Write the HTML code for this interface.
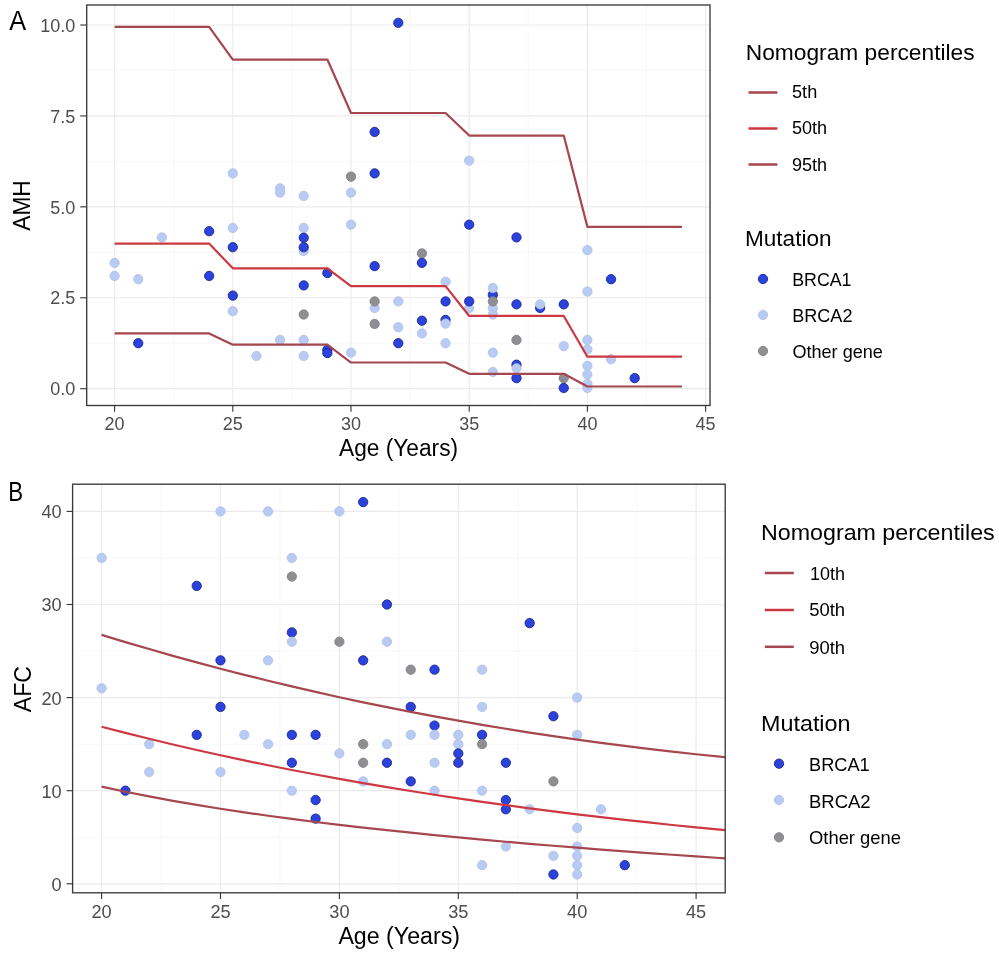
<!DOCTYPE html>
<html><head><meta charset="utf-8"><title>Nomogram</title>
<style>html,body{margin:0;padding:0;background:#fff;width:999px;height:954px;overflow:hidden}svg{display:block;will-change:transform}</style>
</head><body>
<svg width="999" height="954" viewBox="0 0 999 954">
<style>
.gmaj{stroke:#ebebee;stroke-width:1.2}
.gmin{stroke:#f3f3f5;stroke-width:0.7}
.tick{stroke:#333;stroke-width:1.1}
.tl{font-family:"Liberation Sans",sans-serif;font-size:18.0px;fill:#4d4d4d}
.tlb{font-family:"Liberation Sans",sans-serif;font-size:18.2px;fill:#4d4d4d}
text{font-family:"Liberation Sans",sans-serif}
.lt{font-family:"Liberation Sans",sans-serif;font-size:20.5px;fill:#000}
.ll{font-family:"Liberation Sans",sans-serif;font-size:17.5px;fill:#000}
.at{font-family:"Liberation Sans",sans-serif;font-size:21px;fill:#000}
.tag{font-family:"Liberation Sans",sans-serif;font-size:25px;fill:#000}
.border{fill:none;stroke:#3a3a3a;stroke-width:1.35}
</style>
<rect width="999" height="954" fill="#fff"/>
<!-- Panel A -->
<g>
<line x1="173.70" y1="5.0" x2="173.70" y2="405.5" class="gmin"/>
<line x1="291.90" y1="5.0" x2="291.90" y2="405.5" class="gmin"/>
<line x1="410.10" y1="5.0" x2="410.10" y2="405.5" class="gmin"/>
<line x1="528.30" y1="5.0" x2="528.30" y2="405.5" class="gmin"/>
<line x1="646.50" y1="5.0" x2="646.50" y2="405.5" class="gmin"/>
<line x1="86.7" y1="343.24" x2="710.0" y2="343.24" class="gmin"/>
<line x1="86.7" y1="252.31" x2="710.0" y2="252.31" class="gmin"/>
<line x1="86.7" y1="161.39" x2="710.0" y2="161.39" class="gmin"/>
<line x1="86.7" y1="70.46" x2="710.0" y2="70.46" class="gmin"/>
<line x1="114.60" y1="5.0" x2="114.60" y2="405.5" class="gmaj"/>
<line x1="232.80" y1="5.0" x2="232.80" y2="405.5" class="gmaj"/>
<line x1="351.00" y1="5.0" x2="351.00" y2="405.5" class="gmaj"/>
<line x1="469.20" y1="5.0" x2="469.20" y2="405.5" class="gmaj"/>
<line x1="587.40" y1="5.0" x2="587.40" y2="405.5" class="gmaj"/>
<line x1="705.60" y1="5.0" x2="705.60" y2="405.5" class="gmaj"/>
<line x1="86.7" y1="388.70" x2="710.0" y2="388.70" class="gmaj"/>
<line x1="86.7" y1="297.77" x2="710.0" y2="297.77" class="gmaj"/>
<line x1="86.7" y1="206.85" x2="710.0" y2="206.85" class="gmaj"/>
<line x1="86.7" y1="115.93" x2="710.0" y2="115.93" class="gmaj"/>
<line x1="86.7" y1="25.00" x2="710.0" y2="25.00" class="gmaj"/>
<circle cx="114.60" cy="262.86" r="4.65" fill="#b9cbf2" stroke="#b0c2ec" stroke-width="0.9"/>
<circle cx="114.60" cy="275.95" r="4.65" fill="#b9cbf2" stroke="#b0c2ec" stroke-width="0.9"/>
<circle cx="138.24" cy="279.23" r="4.65" fill="#b9cbf2" stroke="#b0c2ec" stroke-width="0.9"/>
<circle cx="138.24" cy="343.24" r="4.65" fill="#2c42dc" stroke="#1a2894" stroke-width="0.9"/>
<circle cx="161.88" cy="237.40" r="4.65" fill="#b9cbf2" stroke="#b0c2ec" stroke-width="0.9"/>
<circle cx="209.16" cy="231.22" r="4.65" fill="#2c42dc" stroke="#1a2894" stroke-width="0.9"/>
<circle cx="209.16" cy="275.95" r="4.65" fill="#2c42dc" stroke="#1a2894" stroke-width="0.9"/>
<circle cx="232.80" cy="173.39" r="4.65" fill="#b9cbf2" stroke="#b0c2ec" stroke-width="0.9"/>
<circle cx="232.80" cy="227.94" r="4.65" fill="#b9cbf2" stroke="#b0c2ec" stroke-width="0.9"/>
<circle cx="232.80" cy="247.22" r="4.65" fill="#2c42dc" stroke="#1a2894" stroke-width="0.9"/>
<circle cx="232.80" cy="295.59" r="4.65" fill="#2c42dc" stroke="#1a2894" stroke-width="0.9"/>
<circle cx="232.80" cy="311.23" r="4.65" fill="#b9cbf2" stroke="#b0c2ec" stroke-width="0.9"/>
<circle cx="256.44" cy="355.97" r="4.65" fill="#b9cbf2" stroke="#b0c2ec" stroke-width="0.9"/>
<circle cx="280.08" cy="188.30" r="4.65" fill="#b9cbf2" stroke="#b0c2ec" stroke-width="0.9"/>
<circle cx="280.08" cy="192.67" r="4.65" fill="#b9cbf2" stroke="#b0c2ec" stroke-width="0.9"/>
<circle cx="280.08" cy="339.96" r="4.65" fill="#b9cbf2" stroke="#b0c2ec" stroke-width="0.9"/>
<circle cx="303.72" cy="195.94" r="4.65" fill="#b9cbf2" stroke="#b0c2ec" stroke-width="0.9"/>
<circle cx="303.72" cy="227.94" r="4.65" fill="#b9cbf2" stroke="#b0c2ec" stroke-width="0.9"/>
<circle cx="303.72" cy="250.86" r="4.65" fill="#b9cbf2" stroke="#b0c2ec" stroke-width="0.9"/>
<circle cx="303.72" cy="237.76" r="4.65" fill="#2c42dc" stroke="#1a2894" stroke-width="0.9"/>
<circle cx="303.72" cy="247.22" r="4.65" fill="#2c42dc" stroke="#1a2894" stroke-width="0.9"/>
<circle cx="303.72" cy="285.41" r="4.65" fill="#2c42dc" stroke="#1a2894" stroke-width="0.9"/>
<circle cx="303.72" cy="314.51" r="4.65" fill="#8f8f93" stroke="#838387" stroke-width="0.9"/>
<circle cx="303.72" cy="339.96" r="4.65" fill="#b9cbf2" stroke="#b0c2ec" stroke-width="0.9"/>
<circle cx="303.72" cy="355.97" r="4.65" fill="#b9cbf2" stroke="#b0c2ec" stroke-width="0.9"/>
<circle cx="327.36" cy="273.04" r="4.65" fill="#2c42dc" stroke="#1a2894" stroke-width="0.9"/>
<circle cx="327.36" cy="349.78" r="4.65" fill="#2c42dc" stroke="#1a2894" stroke-width="0.9"/>
<circle cx="327.36" cy="353.06" r="4.65" fill="#2c42dc" stroke="#1a2894" stroke-width="0.9"/>
<circle cx="351.00" cy="176.66" r="4.65" fill="#8f8f93" stroke="#838387" stroke-width="0.9"/>
<circle cx="351.00" cy="192.67" r="4.65" fill="#b9cbf2" stroke="#b0c2ec" stroke-width="0.9"/>
<circle cx="351.00" cy="224.67" r="4.65" fill="#b9cbf2" stroke="#b0c2ec" stroke-width="0.9"/>
<circle cx="351.00" cy="352.69" r="4.65" fill="#b9cbf2" stroke="#b0c2ec" stroke-width="0.9"/>
<circle cx="374.64" cy="131.93" r="4.65" fill="#2c42dc" stroke="#1a2894" stroke-width="0.9"/>
<circle cx="374.64" cy="173.39" r="4.65" fill="#2c42dc" stroke="#1a2894" stroke-width="0.9"/>
<circle cx="374.64" cy="266.13" r="4.65" fill="#2c42dc" stroke="#1a2894" stroke-width="0.9"/>
<circle cx="374.64" cy="307.96" r="4.65" fill="#b9cbf2" stroke="#b0c2ec" stroke-width="0.9"/>
<circle cx="374.64" cy="301.41" r="4.65" fill="#8f8f93" stroke="#838387" stroke-width="0.9"/>
<circle cx="374.64" cy="323.96" r="4.65" fill="#8f8f93" stroke="#838387" stroke-width="0.9"/>
<circle cx="398.28" cy="22.82" r="4.65" fill="#2c42dc" stroke="#1a2894" stroke-width="0.9"/>
<circle cx="398.28" cy="301.41" r="4.65" fill="#b9cbf2" stroke="#b0c2ec" stroke-width="0.9"/>
<circle cx="398.28" cy="327.23" r="4.65" fill="#b9cbf2" stroke="#b0c2ec" stroke-width="0.9"/>
<circle cx="398.28" cy="343.24" r="4.65" fill="#2c42dc" stroke="#1a2894" stroke-width="0.9"/>
<circle cx="421.92" cy="253.40" r="4.65" fill="#8f8f93" stroke="#838387" stroke-width="0.9"/>
<circle cx="421.92" cy="262.86" r="4.65" fill="#2c42dc" stroke="#1a2894" stroke-width="0.9"/>
<circle cx="421.92" cy="320.69" r="4.65" fill="#2c42dc" stroke="#1a2894" stroke-width="0.9"/>
<circle cx="421.92" cy="333.42" r="4.65" fill="#b9cbf2" stroke="#b0c2ec" stroke-width="0.9"/>
<circle cx="445.56" cy="281.77" r="4.65" fill="#b9cbf2" stroke="#b0c2ec" stroke-width="0.9"/>
<circle cx="445.56" cy="301.41" r="4.65" fill="#2c42dc" stroke="#1a2894" stroke-width="0.9"/>
<circle cx="445.56" cy="319.96" r="4.65" fill="#2c42dc" stroke="#1a2894" stroke-width="0.9"/>
<circle cx="445.56" cy="323.60" r="4.65" fill="#b9cbf2" stroke="#b0c2ec" stroke-width="0.9"/>
<circle cx="445.56" cy="343.24" r="4.65" fill="#b9cbf2" stroke="#b0c2ec" stroke-width="0.9"/>
<circle cx="469.20" cy="160.66" r="4.65" fill="#b9cbf2" stroke="#b0c2ec" stroke-width="0.9"/>
<circle cx="469.20" cy="224.67" r="4.65" fill="#2c42dc" stroke="#1a2894" stroke-width="0.9"/>
<circle cx="469.20" cy="307.96" r="4.65" fill="#b9cbf2" stroke="#b0c2ec" stroke-width="0.9"/>
<circle cx="469.20" cy="301.41" r="4.65" fill="#2c42dc" stroke="#1a2894" stroke-width="0.9"/>
<circle cx="492.84" cy="294.87" r="4.65" fill="#2c42dc" stroke="#1a2894" stroke-width="0.9"/>
<circle cx="492.84" cy="287.96" r="4.65" fill="#b9cbf2" stroke="#b0c2ec" stroke-width="0.9"/>
<circle cx="492.84" cy="307.96" r="4.65" fill="#b9cbf2" stroke="#b0c2ec" stroke-width="0.9"/>
<circle cx="492.84" cy="314.51" r="4.65" fill="#b9cbf2" stroke="#b0c2ec" stroke-width="0.9"/>
<circle cx="492.84" cy="301.41" r="4.65" fill="#8f8f93" stroke="#838387" stroke-width="0.9"/>
<circle cx="492.84" cy="352.69" r="4.65" fill="#b9cbf2" stroke="#b0c2ec" stroke-width="0.9"/>
<circle cx="492.84" cy="371.97" r="4.65" fill="#b9cbf2" stroke="#b0c2ec" stroke-width="0.9"/>
<circle cx="516.48" cy="237.40" r="4.65" fill="#2c42dc" stroke="#1a2894" stroke-width="0.9"/>
<circle cx="516.48" cy="304.32" r="4.65" fill="#2c42dc" stroke="#1a2894" stroke-width="0.9"/>
<circle cx="516.48" cy="339.96" r="4.65" fill="#8f8f93" stroke="#838387" stroke-width="0.9"/>
<circle cx="516.48" cy="364.70" r="4.65" fill="#2c42dc" stroke="#1a2894" stroke-width="0.9"/>
<circle cx="516.48" cy="368.33" r="4.65" fill="#b9cbf2" stroke="#b0c2ec" stroke-width="0.9"/>
<circle cx="516.48" cy="378.15" r="4.65" fill="#2c42dc" stroke="#1a2894" stroke-width="0.9"/>
<circle cx="540.12" cy="307.96" r="4.65" fill="#2c42dc" stroke="#1a2894" stroke-width="0.9"/>
<circle cx="540.12" cy="304.32" r="4.65" fill="#b9cbf2" stroke="#b0c2ec" stroke-width="0.9"/>
<circle cx="563.76" cy="304.32" r="4.65" fill="#2c42dc" stroke="#1a2894" stroke-width="0.9"/>
<circle cx="563.76" cy="346.15" r="4.65" fill="#b9cbf2" stroke="#b0c2ec" stroke-width="0.9"/>
<circle cx="563.76" cy="378.15" r="4.65" fill="#8f8f93" stroke="#838387" stroke-width="0.9"/>
<circle cx="563.76" cy="387.97" r="4.65" fill="#2c42dc" stroke="#1a2894" stroke-width="0.9"/>
<circle cx="587.40" cy="250.13" r="4.65" fill="#b9cbf2" stroke="#b0c2ec" stroke-width="0.9"/>
<circle cx="587.40" cy="291.59" r="4.65" fill="#b9cbf2" stroke="#b0c2ec" stroke-width="0.9"/>
<circle cx="587.40" cy="339.96" r="4.65" fill="#b9cbf2" stroke="#b0c2ec" stroke-width="0.9"/>
<circle cx="587.40" cy="349.42" r="4.65" fill="#b9cbf2" stroke="#b0c2ec" stroke-width="0.9"/>
<circle cx="587.40" cy="365.79" r="4.65" fill="#b9cbf2" stroke="#b0c2ec" stroke-width="0.9"/>
<circle cx="587.40" cy="374.52" r="4.65" fill="#b9cbf2" stroke="#b0c2ec" stroke-width="0.9"/>
<circle cx="587.40" cy="383.97" r="4.65" fill="#b9cbf2" stroke="#b0c2ec" stroke-width="0.9"/>
<circle cx="587.40" cy="387.97" r="4.65" fill="#b9cbf2" stroke="#b0c2ec" stroke-width="0.9"/>
<circle cx="611.04" cy="279.23" r="4.65" fill="#2c42dc" stroke="#1a2894" stroke-width="0.9"/>
<circle cx="611.04" cy="359.24" r="4.65" fill="#b9cbf2" stroke="#b0c2ec" stroke-width="0.9"/>
<circle cx="634.68" cy="378.15" r="4.65" fill="#2c42dc" stroke="#1a2894" stroke-width="0.9"/>
<polyline points="114.60,26.82 209.16,26.82 232.80,59.55 327.36,59.55 351.00,113.02 445.56,113.02 469.20,135.56 563.76,135.56 587.40,226.85 681.96,226.85" fill="none" stroke="#a6464f" stroke-width="2.2" stroke-linejoin="round"/>
<polyline points="114.60,243.58 209.16,243.58 232.80,268.32 327.36,268.32 351.00,286.14 445.56,286.14 469.20,315.96 563.76,315.96 587.40,356.69 681.96,356.69" fill="none" stroke="#cd3843" stroke-width="2.2" stroke-linejoin="round"/>
<polyline points="114.60,333.42 209.16,333.42 232.80,344.69 327.36,344.69 351.00,362.51 445.56,362.51 469.20,373.79 563.76,373.79 587.40,386.52 681.96,386.52" fill="none" stroke="#a6464f" stroke-width="2.2" stroke-linejoin="round"/>
<rect x="86.7" y="5.0" width="623.30" height="400.50" class="border"/>
<line x1="80.2" y1="388.70" x2="86.7" y2="388.70" class="tick"/>
<text x="75.3" y="395.40" class="tl" text-anchor="end">0.0</text>
<line x1="80.2" y1="297.77" x2="86.7" y2="297.77" class="tick"/>
<text x="75.3" y="304.47" class="tl" text-anchor="end">2.5</text>
<line x1="80.2" y1="206.85" x2="86.7" y2="206.85" class="tick"/>
<text x="75.3" y="213.55" class="tl" text-anchor="end">5.0</text>
<line x1="80.2" y1="115.93" x2="86.7" y2="115.93" class="tick"/>
<text x="75.3" y="122.63" class="tl" text-anchor="end">7.5</text>
<line x1="80.2" y1="25.00" x2="86.7" y2="25.00" class="tick"/>
<text x="75.3" y="31.70" class="tl" text-anchor="end">10.0</text>
<line x1="114.60" y1="405.5" x2="114.60" y2="411.8" class="tick"/>
<text x="114.60" y="430.1" class="tl" text-anchor="middle">20</text>
<line x1="232.80" y1="405.5" x2="232.80" y2="411.8" class="tick"/>
<text x="232.80" y="430.1" class="tl" text-anchor="middle">25</text>
<line x1="351.00" y1="405.5" x2="351.00" y2="411.8" class="tick"/>
<text x="351.00" y="430.1" class="tl" text-anchor="middle">30</text>
<line x1="469.20" y1="405.5" x2="469.20" y2="411.8" class="tick"/>
<text x="469.20" y="430.1" class="tl" text-anchor="middle">35</text>
<line x1="587.40" y1="405.5" x2="587.40" y2="411.8" class="tick"/>
<text x="587.40" y="430.1" class="tl" text-anchor="middle">40</text>
<line x1="705.60" y1="405.5" x2="705.60" y2="411.8" class="tick"/>
<text x="705.60" y="430.1" class="tl" text-anchor="middle">45</text>
<text x="9.20" y="29.70" font-size="28.3" textLength="16.88" lengthAdjust="spacingAndGlyphs">A</text>
<text transform="translate(29.90,230.80) rotate(-90)" font-size="23.0" textLength="50.63" lengthAdjust="spacingAndGlyphs">AMH</text>
<text x="339.00" y="456.10" font-size="23.0" textLength="119.11" lengthAdjust="spacingAndGlyphs">Age (Years)</text>
<text x="745.80" y="59.70" font-size="22.3" textLength="228.81" lengthAdjust="spacingAndGlyphs">Nomogram percentiles</text>
<line x1="748.5" y1="92.5" x2="777.4" y2="92.5" stroke="#a6464f" stroke-width="2.5"/>
<text x="792.00" y="98.40" font-size="17.8" textLength="25.22" lengthAdjust="spacingAndGlyphs">5th</text>
<line x1="748.5" y1="128.5" x2="777.4" y2="128.5" stroke="#cd3843" stroke-width="2.5"/>
<text x="792.00" y="134.20" font-size="17.8" textLength="35.11" lengthAdjust="spacingAndGlyphs">50th</text>
<line x1="748.5" y1="164.5" x2="777.4" y2="164.5" stroke="#a6464f" stroke-width="2.5"/>
<text x="792.00" y="171.00" font-size="17.8" textLength="35.11" lengthAdjust="spacingAndGlyphs">95th</text>
<text x="745.00" y="246.20" font-size="22.3" textLength="86.53" lengthAdjust="spacingAndGlyphs">Mutation</text>
<circle cx="763" cy="279" r="4.65" fill="#2c42dc" stroke="#1a2894" stroke-width="0.9"/>
<text x="792.20" y="285.70" font-size="17.8" textLength="59.30" lengthAdjust="spacingAndGlyphs">BRCA1</text>
<circle cx="763" cy="315" r="4.65" fill="#b9cbf2" stroke="#b0c2ec" stroke-width="0.9"/>
<text x="792.20" y="321.80" font-size="17.8" textLength="60.30" lengthAdjust="spacingAndGlyphs">BRCA2</text>
<circle cx="763" cy="351" r="4.65" fill="#8f8f93" stroke="#838387" stroke-width="0.9"/>
<text x="792.40" y="357.50" font-size="17.8" textLength="90.47" lengthAdjust="spacingAndGlyphs">Other gene</text>
</g>
<!-- Panel B -->
<g>
<clipPath id="cb"><rect x="72.6" y="484.2" width="652.60" height="408.60"/></clipPath>
<line x1="161.05" y1="484.2" x2="161.05" y2="892.8" class="gmin"/>
<line x1="279.95" y1="484.2" x2="279.95" y2="892.8" class="gmin"/>
<line x1="398.85" y1="484.2" x2="398.85" y2="892.8" class="gmin"/>
<line x1="517.75" y1="484.2" x2="517.75" y2="892.8" class="gmin"/>
<line x1="636.65" y1="484.2" x2="636.65" y2="892.8" class="gmin"/>
<line x1="72.6" y1="837.25" x2="725.2" y2="837.25" class="gmin"/>
<line x1="72.6" y1="744.15" x2="725.2" y2="744.15" class="gmin"/>
<line x1="72.6" y1="651.05" x2="725.2" y2="651.05" class="gmin"/>
<line x1="72.6" y1="557.95" x2="725.2" y2="557.95" class="gmin"/>
<line x1="101.60" y1="484.2" x2="101.60" y2="892.8" class="gmaj"/>
<line x1="220.50" y1="484.2" x2="220.50" y2="892.8" class="gmaj"/>
<line x1="339.40" y1="484.2" x2="339.40" y2="892.8" class="gmaj"/>
<line x1="458.30" y1="484.2" x2="458.30" y2="892.8" class="gmaj"/>
<line x1="577.20" y1="484.2" x2="577.20" y2="892.8" class="gmaj"/>
<line x1="696.10" y1="484.2" x2="696.10" y2="892.8" class="gmaj"/>
<line x1="72.6" y1="883.80" x2="725.2" y2="883.80" class="gmaj"/>
<line x1="72.6" y1="790.70" x2="725.2" y2="790.70" class="gmaj"/>
<line x1="72.6" y1="697.60" x2="725.2" y2="697.60" class="gmaj"/>
<line x1="72.6" y1="604.50" x2="725.2" y2="604.50" class="gmaj"/>
<line x1="72.6" y1="511.40" x2="725.2" y2="511.40" class="gmaj"/>
<circle cx="101.60" cy="557.95" r="4.65" fill="#b9cbf2" stroke="#b0c2ec" stroke-width="0.9"/>
<circle cx="101.60" cy="688.29" r="4.65" fill="#b9cbf2" stroke="#b0c2ec" stroke-width="0.9"/>
<circle cx="125.38" cy="790.70" r="4.65" fill="#2c42dc" stroke="#1a2894" stroke-width="0.9"/>
<circle cx="149.16" cy="744.15" r="4.65" fill="#b9cbf2" stroke="#b0c2ec" stroke-width="0.9"/>
<circle cx="149.16" cy="772.08" r="4.65" fill="#b9cbf2" stroke="#b0c2ec" stroke-width="0.9"/>
<circle cx="196.72" cy="585.88" r="4.65" fill="#2c42dc" stroke="#1a2894" stroke-width="0.9"/>
<circle cx="196.72" cy="734.84" r="4.65" fill="#2c42dc" stroke="#1a2894" stroke-width="0.9"/>
<circle cx="220.50" cy="511.40" r="4.65" fill="#b9cbf2" stroke="#b0c2ec" stroke-width="0.9"/>
<circle cx="220.50" cy="660.36" r="4.65" fill="#2c42dc" stroke="#1a2894" stroke-width="0.9"/>
<circle cx="220.50" cy="706.91" r="4.65" fill="#2c42dc" stroke="#1a2894" stroke-width="0.9"/>
<circle cx="220.50" cy="772.08" r="4.65" fill="#b9cbf2" stroke="#b0c2ec" stroke-width="0.9"/>
<circle cx="244.28" cy="734.84" r="4.65" fill="#b9cbf2" stroke="#b0c2ec" stroke-width="0.9"/>
<circle cx="268.06" cy="511.40" r="4.65" fill="#b9cbf2" stroke="#b0c2ec" stroke-width="0.9"/>
<circle cx="268.06" cy="660.36" r="4.65" fill="#b9cbf2" stroke="#b0c2ec" stroke-width="0.9"/>
<circle cx="268.06" cy="744.15" r="4.65" fill="#b9cbf2" stroke="#b0c2ec" stroke-width="0.9"/>
<circle cx="291.84" cy="557.95" r="4.65" fill="#b9cbf2" stroke="#b0c2ec" stroke-width="0.9"/>
<circle cx="291.84" cy="576.57" r="4.65" fill="#8f8f93" stroke="#838387" stroke-width="0.9"/>
<circle cx="291.84" cy="632.43" r="4.65" fill="#2c42dc" stroke="#1a2894" stroke-width="0.9"/>
<circle cx="291.84" cy="641.74" r="4.65" fill="#b9cbf2" stroke="#b0c2ec" stroke-width="0.9"/>
<circle cx="291.84" cy="734.84" r="4.65" fill="#2c42dc" stroke="#1a2894" stroke-width="0.9"/>
<circle cx="291.84" cy="762.77" r="4.65" fill="#2c42dc" stroke="#1a2894" stroke-width="0.9"/>
<circle cx="291.84" cy="790.70" r="4.65" fill="#b9cbf2" stroke="#b0c2ec" stroke-width="0.9"/>
<circle cx="315.62" cy="734.84" r="4.65" fill="#2c42dc" stroke="#1a2894" stroke-width="0.9"/>
<circle cx="315.62" cy="800.01" r="4.65" fill="#2c42dc" stroke="#1a2894" stroke-width="0.9"/>
<circle cx="315.62" cy="818.63" r="4.65" fill="#2c42dc" stroke="#1a2894" stroke-width="0.9"/>
<circle cx="339.40" cy="511.40" r="4.65" fill="#b9cbf2" stroke="#b0c2ec" stroke-width="0.9"/>
<circle cx="339.40" cy="641.74" r="4.65" fill="#8f8f93" stroke="#838387" stroke-width="0.9"/>
<circle cx="339.40" cy="753.46" r="4.65" fill="#b9cbf2" stroke="#b0c2ec" stroke-width="0.9"/>
<circle cx="363.18" cy="502.09" r="4.65" fill="#2c42dc" stroke="#1a2894" stroke-width="0.9"/>
<circle cx="363.18" cy="660.36" r="4.65" fill="#2c42dc" stroke="#1a2894" stroke-width="0.9"/>
<circle cx="363.18" cy="744.15" r="4.65" fill="#8f8f93" stroke="#838387" stroke-width="0.9"/>
<circle cx="363.18" cy="762.77" r="4.65" fill="#8f8f93" stroke="#838387" stroke-width="0.9"/>
<circle cx="363.18" cy="781.39" r="4.65" fill="#b9cbf2" stroke="#b0c2ec" stroke-width="0.9"/>
<circle cx="386.96" cy="604.50" r="4.65" fill="#2c42dc" stroke="#1a2894" stroke-width="0.9"/>
<circle cx="386.96" cy="641.74" r="4.65" fill="#b9cbf2" stroke="#b0c2ec" stroke-width="0.9"/>
<circle cx="386.96" cy="744.15" r="4.65" fill="#b9cbf2" stroke="#b0c2ec" stroke-width="0.9"/>
<circle cx="386.96" cy="762.77" r="4.65" fill="#2c42dc" stroke="#1a2894" stroke-width="0.9"/>
<circle cx="410.74" cy="669.67" r="4.65" fill="#8f8f93" stroke="#838387" stroke-width="0.9"/>
<circle cx="410.74" cy="706.91" r="4.65" fill="#2c42dc" stroke="#1a2894" stroke-width="0.9"/>
<circle cx="410.74" cy="734.84" r="4.65" fill="#b9cbf2" stroke="#b0c2ec" stroke-width="0.9"/>
<circle cx="410.74" cy="781.39" r="4.65" fill="#2c42dc" stroke="#1a2894" stroke-width="0.9"/>
<circle cx="434.52" cy="669.67" r="4.65" fill="#2c42dc" stroke="#1a2894" stroke-width="0.9"/>
<circle cx="434.52" cy="725.53" r="4.65" fill="#2c42dc" stroke="#1a2894" stroke-width="0.9"/>
<circle cx="434.52" cy="734.84" r="4.65" fill="#b9cbf2" stroke="#b0c2ec" stroke-width="0.9"/>
<circle cx="434.52" cy="762.77" r="4.65" fill="#b9cbf2" stroke="#b0c2ec" stroke-width="0.9"/>
<circle cx="434.52" cy="790.70" r="4.65" fill="#b9cbf2" stroke="#b0c2ec" stroke-width="0.9"/>
<circle cx="458.30" cy="734.84" r="4.65" fill="#b9cbf2" stroke="#b0c2ec" stroke-width="0.9"/>
<circle cx="458.30" cy="744.15" r="4.65" fill="#b9cbf2" stroke="#b0c2ec" stroke-width="0.9"/>
<circle cx="458.30" cy="753.46" r="4.65" fill="#2c42dc" stroke="#1a2894" stroke-width="0.9"/>
<circle cx="458.30" cy="762.77" r="4.65" fill="#2c42dc" stroke="#1a2894" stroke-width="0.9"/>
<circle cx="482.08" cy="669.67" r="4.65" fill="#b9cbf2" stroke="#b0c2ec" stroke-width="0.9"/>
<circle cx="482.08" cy="706.91" r="4.65" fill="#b9cbf2" stroke="#b0c2ec" stroke-width="0.9"/>
<circle cx="482.08" cy="734.84" r="4.65" fill="#2c42dc" stroke="#1a2894" stroke-width="0.9"/>
<circle cx="482.08" cy="744.15" r="4.65" fill="#8f8f93" stroke="#838387" stroke-width="0.9"/>
<circle cx="482.08" cy="790.70" r="4.65" fill="#b9cbf2" stroke="#b0c2ec" stroke-width="0.9"/>
<circle cx="482.08" cy="865.18" r="4.65" fill="#b9cbf2" stroke="#b0c2ec" stroke-width="0.9"/>
<circle cx="505.86" cy="762.77" r="4.65" fill="#2c42dc" stroke="#1a2894" stroke-width="0.9"/>
<circle cx="505.86" cy="800.01" r="4.65" fill="#2c42dc" stroke="#1a2894" stroke-width="0.9"/>
<circle cx="505.86" cy="809.32" r="4.65" fill="#2c42dc" stroke="#1a2894" stroke-width="0.9"/>
<circle cx="505.86" cy="846.56" r="4.65" fill="#b9cbf2" stroke="#b0c2ec" stroke-width="0.9"/>
<circle cx="529.64" cy="623.12" r="4.65" fill="#2c42dc" stroke="#1a2894" stroke-width="0.9"/>
<circle cx="529.64" cy="809.32" r="4.65" fill="#b9cbf2" stroke="#b0c2ec" stroke-width="0.9"/>
<circle cx="553.42" cy="716.22" r="4.65" fill="#2c42dc" stroke="#1a2894" stroke-width="0.9"/>
<circle cx="553.42" cy="781.39" r="4.65" fill="#8f8f93" stroke="#838387" stroke-width="0.9"/>
<circle cx="553.42" cy="855.87" r="4.65" fill="#b9cbf2" stroke="#b0c2ec" stroke-width="0.9"/>
<circle cx="553.42" cy="874.49" r="4.65" fill="#2c42dc" stroke="#1a2894" stroke-width="0.9"/>
<circle cx="577.20" cy="697.60" r="4.65" fill="#b9cbf2" stroke="#b0c2ec" stroke-width="0.9"/>
<circle cx="577.20" cy="734.84" r="4.65" fill="#b9cbf2" stroke="#b0c2ec" stroke-width="0.9"/>
<circle cx="577.20" cy="827.94" r="4.65" fill="#b9cbf2" stroke="#b0c2ec" stroke-width="0.9"/>
<circle cx="577.20" cy="846.56" r="4.65" fill="#b9cbf2" stroke="#b0c2ec" stroke-width="0.9"/>
<circle cx="577.20" cy="855.87" r="4.65" fill="#b9cbf2" stroke="#b0c2ec" stroke-width="0.9"/>
<circle cx="577.20" cy="865.18" r="4.65" fill="#b9cbf2" stroke="#b0c2ec" stroke-width="0.9"/>
<circle cx="577.20" cy="874.49" r="4.65" fill="#b9cbf2" stroke="#b0c2ec" stroke-width="0.9"/>
<circle cx="600.98" cy="809.32" r="4.65" fill="#b9cbf2" stroke="#b0c2ec" stroke-width="0.9"/>
<circle cx="624.76" cy="865.18" r="4.65" fill="#2c42dc" stroke="#1a2894" stroke-width="0.9"/>
<g clip-path="url(#cb)"><g transform="translate(0,0.45)">
<polyline points="101.60,634.43 125.38,641.63 149.16,648.60 172.94,655.37 196.72,661.92 220.50,668.25 244.28,674.37 268.06,680.28 291.84,685.98 315.62,691.48 339.40,696.77 363.18,701.85 386.96,706.74 410.74,711.43 434.52,715.93 458.30,720.24 482.08,724.37 505.86,728.32 529.64,732.09 553.42,735.68 577.20,739.10 600.98,742.36 624.76,745.45 648.54,748.39 672.32,751.16 696.10,753.78 719.88,756.25 725.11,756.78" fill="none" stroke="#a6464f" stroke-width="2.2" stroke-linejoin="round"/>
<polyline points="101.60,726.27 125.38,732.42 149.16,738.34 172.94,744.05 196.72,749.54 220.50,754.83 244.28,759.92 268.06,764.82 291.84,769.53 315.62,774.07 339.40,778.44 363.18,782.64 386.96,786.68 410.74,790.56 434.52,794.29 458.30,797.88 482.08,801.34 505.86,804.65 529.64,807.84 553.42,810.91 577.20,813.85 600.98,816.68 624.76,819.40 648.54,822.01 672.32,824.52 696.10,826.93 719.88,829.24 725.11,829.73" fill="none" stroke="#cd3843" stroke-width="2.2" stroke-linejoin="round"/>
<polyline points="101.60,786.19 125.38,791.26 149.16,795.97 172.94,800.36 196.72,804.46 220.50,808.30 244.28,811.90 268.06,815.29 291.84,818.50 315.62,821.53 339.40,824.41 363.18,827.15 386.96,829.76 410.74,832.26 434.52,834.65 458.30,836.95 482.08,839.16 505.86,841.28 529.64,843.34 553.42,845.32 577.20,847.24 600.98,849.09 624.76,850.89 648.54,852.63 672.32,854.32 696.10,855.96 719.88,857.54 725.11,857.88" fill="none" stroke="#a6464f" stroke-width="2.2" stroke-linejoin="round"/>
</g></g>
<rect x="72.6" y="484.2" width="652.60" height="408.60" class="border"/>
<line x1="66.6" y1="883.80" x2="72.6" y2="883.80" class="tick"/>
<text x="61.7" y="890.70" class="tlb" text-anchor="end">0</text>
<line x1="66.6" y1="790.70" x2="72.6" y2="790.70" class="tick"/>
<text x="61.7" y="797.60" class="tlb" text-anchor="end">10</text>
<line x1="66.6" y1="697.60" x2="72.6" y2="697.60" class="tick"/>
<text x="61.7" y="704.50" class="tlb" text-anchor="end">20</text>
<line x1="66.6" y1="604.50" x2="72.6" y2="604.50" class="tick"/>
<text x="61.7" y="611.40" class="tlb" text-anchor="end">30</text>
<line x1="66.6" y1="511.40" x2="72.6" y2="511.40" class="tick"/>
<text x="61.7" y="518.30" class="tlb" text-anchor="end">40</text>
<line x1="101.60" y1="892.8" x2="101.60" y2="899" class="tick"/>
<text x="101.60" y="917.5" class="tlb" text-anchor="middle">20</text>
<line x1="220.50" y1="892.8" x2="220.50" y2="899" class="tick"/>
<text x="220.50" y="917.5" class="tlb" text-anchor="middle">25</text>
<line x1="339.40" y1="892.8" x2="339.40" y2="899" class="tick"/>
<text x="339.40" y="917.5" class="tlb" text-anchor="middle">30</text>
<line x1="458.30" y1="892.8" x2="458.30" y2="899" class="tick"/>
<text x="458.30" y="917.5" class="tlb" text-anchor="middle">35</text>
<line x1="577.20" y1="892.8" x2="577.20" y2="899" class="tick"/>
<text x="577.20" y="917.5" class="tlb" text-anchor="middle">40</text>
<line x1="696.10" y1="892.8" x2="696.10" y2="899" class="tick"/>
<text x="696.10" y="917.5" class="tlb" text-anchor="middle">45</text>
<text x="8.20" y="500.90" font-size="28.3" textLength="14.87" lengthAdjust="spacingAndGlyphs">B</text>
<text transform="translate(30.70,712.20) rotate(-90)" font-size="23.3" textLength="46.11" lengthAdjust="spacingAndGlyphs">AFC</text>
<text x="338.40" y="943.50" font-size="23.3" textLength="121.67" lengthAdjust="spacingAndGlyphs">Age (Years)</text>
<text x="761.00" y="540.10" font-size="22.7" textLength="233.73" lengthAdjust="spacingAndGlyphs">Nomogram percentiles</text>
<line x1="764.8" y1="573" x2="793.8" y2="573" stroke="#a6464f" stroke-width="2.5"/>
<text x="810.00" y="579.60" font-size="18.2" textLength="34.91" lengthAdjust="spacingAndGlyphs">10th</text>
<line x1="764.8" y1="610" x2="793.8" y2="610" stroke="#cd3843" stroke-width="2.5"/>
<text x="809.20" y="616.40" font-size="18.2" textLength="35.91" lengthAdjust="spacingAndGlyphs">50th</text>
<line x1="764.8" y1="646.8" x2="793.8" y2="646.8" stroke="#a6464f" stroke-width="2.5"/>
<text x="809.20" y="653.60" font-size="18.2" textLength="35.91" lengthAdjust="spacingAndGlyphs">90th</text>
<text x="761.00" y="730.70" font-size="22.7" textLength="89.53" lengthAdjust="spacingAndGlyphs">Mutation</text>
<circle cx="779" cy="763.7" r="4.65" fill="#2c42dc" stroke="#1a2894" stroke-width="0.9"/>
<text x="809.00" y="771.00" font-size="18.2" textLength="60.66" lengthAdjust="spacingAndGlyphs">BRCA1</text>
<circle cx="779" cy="800" r="4.65" fill="#b9cbf2" stroke="#b0c2ec" stroke-width="0.9"/>
<text x="809.00" y="807.60" font-size="18.2" textLength="61.66" lengthAdjust="spacingAndGlyphs">BRCA2</text>
<circle cx="779" cy="837.3" r="4.65" fill="#8f8f93" stroke="#838387" stroke-width="0.9"/>
<text x="809.00" y="843.50" font-size="18.2" textLength="92.00" lengthAdjust="spacingAndGlyphs">Other gene</text>
</g>
</svg>
</body></html>
